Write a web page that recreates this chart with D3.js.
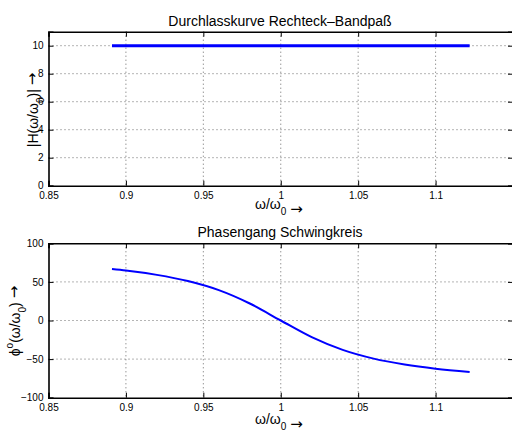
<!DOCTYPE html>
<html>
<head>
<meta charset="utf-8">
<script src="https://cdn.jsdelivr.net/npm/d3@7"></script>
<style>
  body { margin: 0; background: #fff; }
  text { font-family: "Liberation Sans", Arial, sans-serif; }
</style>
</head>
<body>
<svg id="chart" width="512" height="433"></svg>
<script>
// values
const magX = [0.891, 1.122];
const magY = [10, 10];

const phaseX = [0.891, 0.9, 0.92, 0.94, 0.96, 0.98, 1.0, 1.02, 1.04, 1.06, 1.08, 1.1, 1.122];
const phaseY = [66.6, 64.7, 59.1, 51.1, 39.3, 22.0, 0, -21.6, -38.1, -49.4, -57.0, -62.4, -66.6];

const xTicks = [0.85, 0.9, 0.95, 1, 1.05, 1.1];
const magTicks = [0, 2, 4, 6, 8, 10];
const phaseTicks = [-100, -50, 0, 50, 100];

const svg = d3.select("#chart");
const left = 48.5, right = 513;

// arrow glyph, a bit larger like the original
function arrow(t) {
  t.append("tspan").text(" ");
  t.append("tspan").attr("dy", -1).attr("font-size", 15)
    .style("font-family", "DejaVu Sans, sans-serif").text("\u2192");
}

function panel(opts) {
  const {top, bottom, xDomain, yDomain, yTicks, xs, ys, width, title, titleY, xlabY, ylab, ylabX, ylabY} = opts;
  const x = d3.scaleLinear().domain(xDomain).range([left, right]);
  const y = d3.scaleLinear().domain(yDomain).range([bottom, top]);
  const g = svg.append("g");

  // dotted grid
  g.selectAll(".gx").data(xTicks.filter(t => t > xDomain[0])).enter().append("line")
    .attr("x1", d => x(d)).attr("x2", d => x(d)).attr("y1", top).attr("y2", bottom)
    .attr("stroke", "#444").attr("stroke-width", 0.8).attr("stroke-dasharray", "1,3");
  g.selectAll(".gy").data(yTicks.filter(t => t > yDomain[0] && t < yDomain[1])).enter().append("line")
    .attr("x1", left).attr("x2", right).attr("y1", d => y(d)).attr("y2", d => y(d))
    .attr("stroke", "#444").attr("stroke-width", 0.8).attr("stroke-dasharray", "1,3");

  // axes with inward ticks
  const fmt = d => String(d).replace("-", "\u2212");
  g.append("g").attr("transform", `translate(0,${bottom})`)
    .call(d3.axisBottom(x).tickValues(xTicks).tickSize(-5).tickPadding(6).tickFormat(fmt));
  g.append("g").attr("transform", `translate(0,${top})`)
    .call(d3.axisTop(x).tickValues(xTicks).tickSize(-5).tickFormat(""));
  g.append("g").attr("transform", `translate(${left},0)`)
    .call(d3.axisLeft(y).tickValues(yTicks).tickSize(-5).tickPadding(5).tickFormat(fmt));
  g.append("g").attr("transform", `translate(${right},0)`)
    .call(d3.axisRight(y).tickValues(yTicks).tickSize(-5).tickFormat(""));
  g.selectAll(".domain").attr("stroke", "#000").attr("stroke-width", 1.6);
  g.selectAll(".tick line").attr("stroke", "#000").attr("stroke-width", 1);
  g.selectAll(".tick text").attr("font-size", 10).attr("fill", "#000")
    .style("font-family", "Liberation Sans, Arial, sans-serif");

  // curve
  g.append("path").datum(xs.map((d, i) => [d, ys[i]]))
    .attr("d", d3.line().x(d => x(d[0])).y(d => y(d[1])).curve(d3.curveMonotoneX))
    .attr("fill", "none").attr("stroke", "#0000ff").attr("stroke-width", width);

  // title
  g.append("text").attr("x", 280).attr("y", titleY).attr("text-anchor", "middle")
    .attr("font-size", 14).text(title);

  // x label
  const xl = g.append("text").attr("x", 255).attr("y", xlabY).attr("font-size", 14);
  xl.append("tspan").text("\u03c9/\u03c9");
  xl.append("tspan").attr("dy", 6).attr("font-size", 10).text("0");
  xl.append("tspan").attr("dy", -6).text("");
  arrow(xl);

  // y label
  const yl = g.append("text").attr("transform", `translate(${ylabX},${ylabY}) rotate(-90)`)
    .attr("text-anchor", "middle").attr("font-size", 14);
  ylab(yl);
}

panel({
  top: 31.7, bottom: 185.7, xDomain: [0.85, 1.15], yDomain: [0, 11], yTicks: magTicks,
  xs: magX, ys: magY, width: 3, title: "Durchlasskurve Rechteck\u2013Bandpa\u00df",
  titleY: 26, xlabY: 209, ylabX: 38, ylabY: 110,
  ylab: t => {
    t.append("tspan").text("|H(\u03c9/\u03c9");
    t.append("tspan").attr("dy", 6).attr("font-size", 10).text("0");
    t.append("tspan").attr("dy", -6).text(")|");
    arrow(t);
  }
});

panel({
  top: 243.3, bottom: 397.7, xDomain: [0.85, 1.15], yDomain: [-100, 100], yTicks: phaseTicks,
  xs: phaseX, ys: phaseY, width: 2, title: "Phasengang Schwingkreis",
  titleY: 237, xlabY: 424, ylabX: 20, ylabY: 321,
  ylab: t => {
    t.append("tspan").text("\u03d5");
    t.append("tspan").attr("dy", -7).attr("font-size", 10).text("o");
    t.append("tspan").attr("dy", 7).text("(\u03c9/\u03c9");
    t.append("tspan").attr("dy", 6).attr("font-size", 10).text("0");
    t.append("tspan").attr("dy", -6).text(")");
    arrow(t);
  }
});
</script>
</body>
</html>
